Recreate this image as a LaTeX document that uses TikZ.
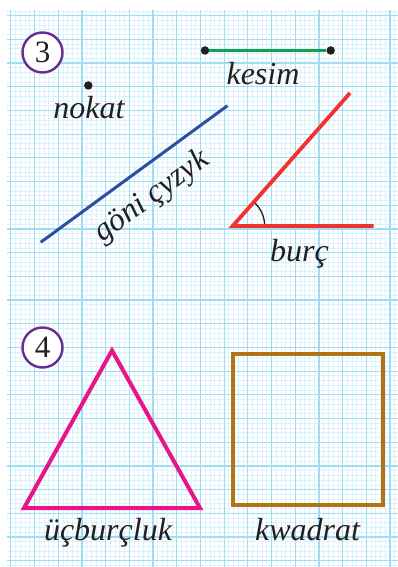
\documentclass[tikz,border=0pt]{standalone}
\usepackage{fontspec}
\setmainfont{Liberation Serif}
\usetikzlibrary{calc}
\definecolor{gridminor}{HTML}{DDF3FC}
\definecolor{gridmajor}{HTML}{A0DCF4}
\definecolor{numpurple}{HTML}{6B2D8C}
\definecolor{segGreen}{HTML}{13A050}
\definecolor{lineBlue}{HTML}{2E4FA0}
\definecolor{angRed}{HTML}{EE3330}
\definecolor{triPink}{HTML}{E8158A}
\definecolor{sqBrown}{HTML}{B07412}
\definecolor{ink}{HTML}{231F20}
\tikzset{
  numcircle/.style={circle, draw=numpurple, line width=2.4pt, fill=white, minimum size=40pt, inner sep=0pt, text=ink, font=\fontsize{31}{34}\selectfont},
  dotnode/.style={circle, fill=ink, minimum size=8.5pt, inner sep=0pt},
  lbl/.style={text=ink, font=\fontsize{32}{36}\selectfont\itshape, inner sep=0pt, anchor=base},
}
\begin{document}
\begin{tikzpicture}[x=1pt,y=-1pt]
\useasboundingbox (0,0) rectangle (398,567);
\fill[white] (0,0) rectangle (398,567);
% grid
\begin{scope}
\clip (7,11) rectangle (398,567);
\fill[white] (7,11) rectangle (398,567);
\foreach \i in {-3,...,84} {
  \draw[gridminor, line width=0.7pt] ({10.8+\i*4.74},0) -- ({10.8+\i*4.74},570);
}
\foreach \j in {-3,...,118} {
  \draw[gridminor, line width=0.7pt] (0,{15.6+\j*4.74}) -- (400,{15.6+\j*4.74});
}
\foreach \i in {0,...,16} {
  \draw[gridmajor, line width=1.2pt] ({10.8+\i*23.7},0) -- ({10.8+\i*23.7},570);
}
\foreach \j in {0,...,23} {
  \draw[gridmajor, line width=1.2pt] (0,{15.6+\j*23.7}) -- (400,{15.6+\j*23.7});
}
\end{scope}

% numbers
\node[numcircle] (n3) at (42.5,52.5) {3};
\node[numcircle] (n4) at (42.5,347.5) {4};

% point
\node[dotnode] (pt) at (88.3,85.5) {};
\node[lbl] (nokat) at (89,118) {nokat};

% segment
\node[dotnode] (sA) at (205,50.5) {};
\node[dotnode] (sB) at (330.7,50.5) {};
\draw[segGreen, line width=2.8pt] (sA) -- (sB);
\node[lbl] (kesim) at (263,85) {kesim};

% line
\coordinate (lA) at (40.7,242.3);
\coordinate (lB) at (227.5,105.7);
\draw[lineBlue, line width=3pt] (lA) -- (lB);
\node[text=ink, font=\fontsize{32}{36}\selectfont\itshape, inner sep=0pt, rotate=36.2] (goni) at (152,197) {göni çyzyk};

% angle
\coordinate (aO) at (232.7,226);
\coordinate (aH) at (373.5,226);
\coordinate (aU) at (350,93);
\draw[ink, line width=1.3pt] ($(aO)+(32,0)$) arc[start angle=0, end angle=-48.7, radius=32];
\draw[angRed, line width=3.8pt, line join=miter] (aU) -- (aO) -- (aH);
\node[lbl] (burc) at (299.5,261.7) {burç};

% triangle
\coordinate (tA) at (112,350.5);
\coordinate (tL) at (24,508);
\coordinate (tR) at (200,508);
\draw[triPink, line width=4pt, line join=miter] (tA) -- (tL) -- (tR) -- cycle;
\node[lbl] (tri) at (108,540) {üçburçluk};

% square
\draw[sqBrown, line width=4pt] (232.5,354) rectangle (382.5,504.5);
\node[lbl] (sq) at (307.5,540) {kwadrat};
\end{tikzpicture}
\end{document}
